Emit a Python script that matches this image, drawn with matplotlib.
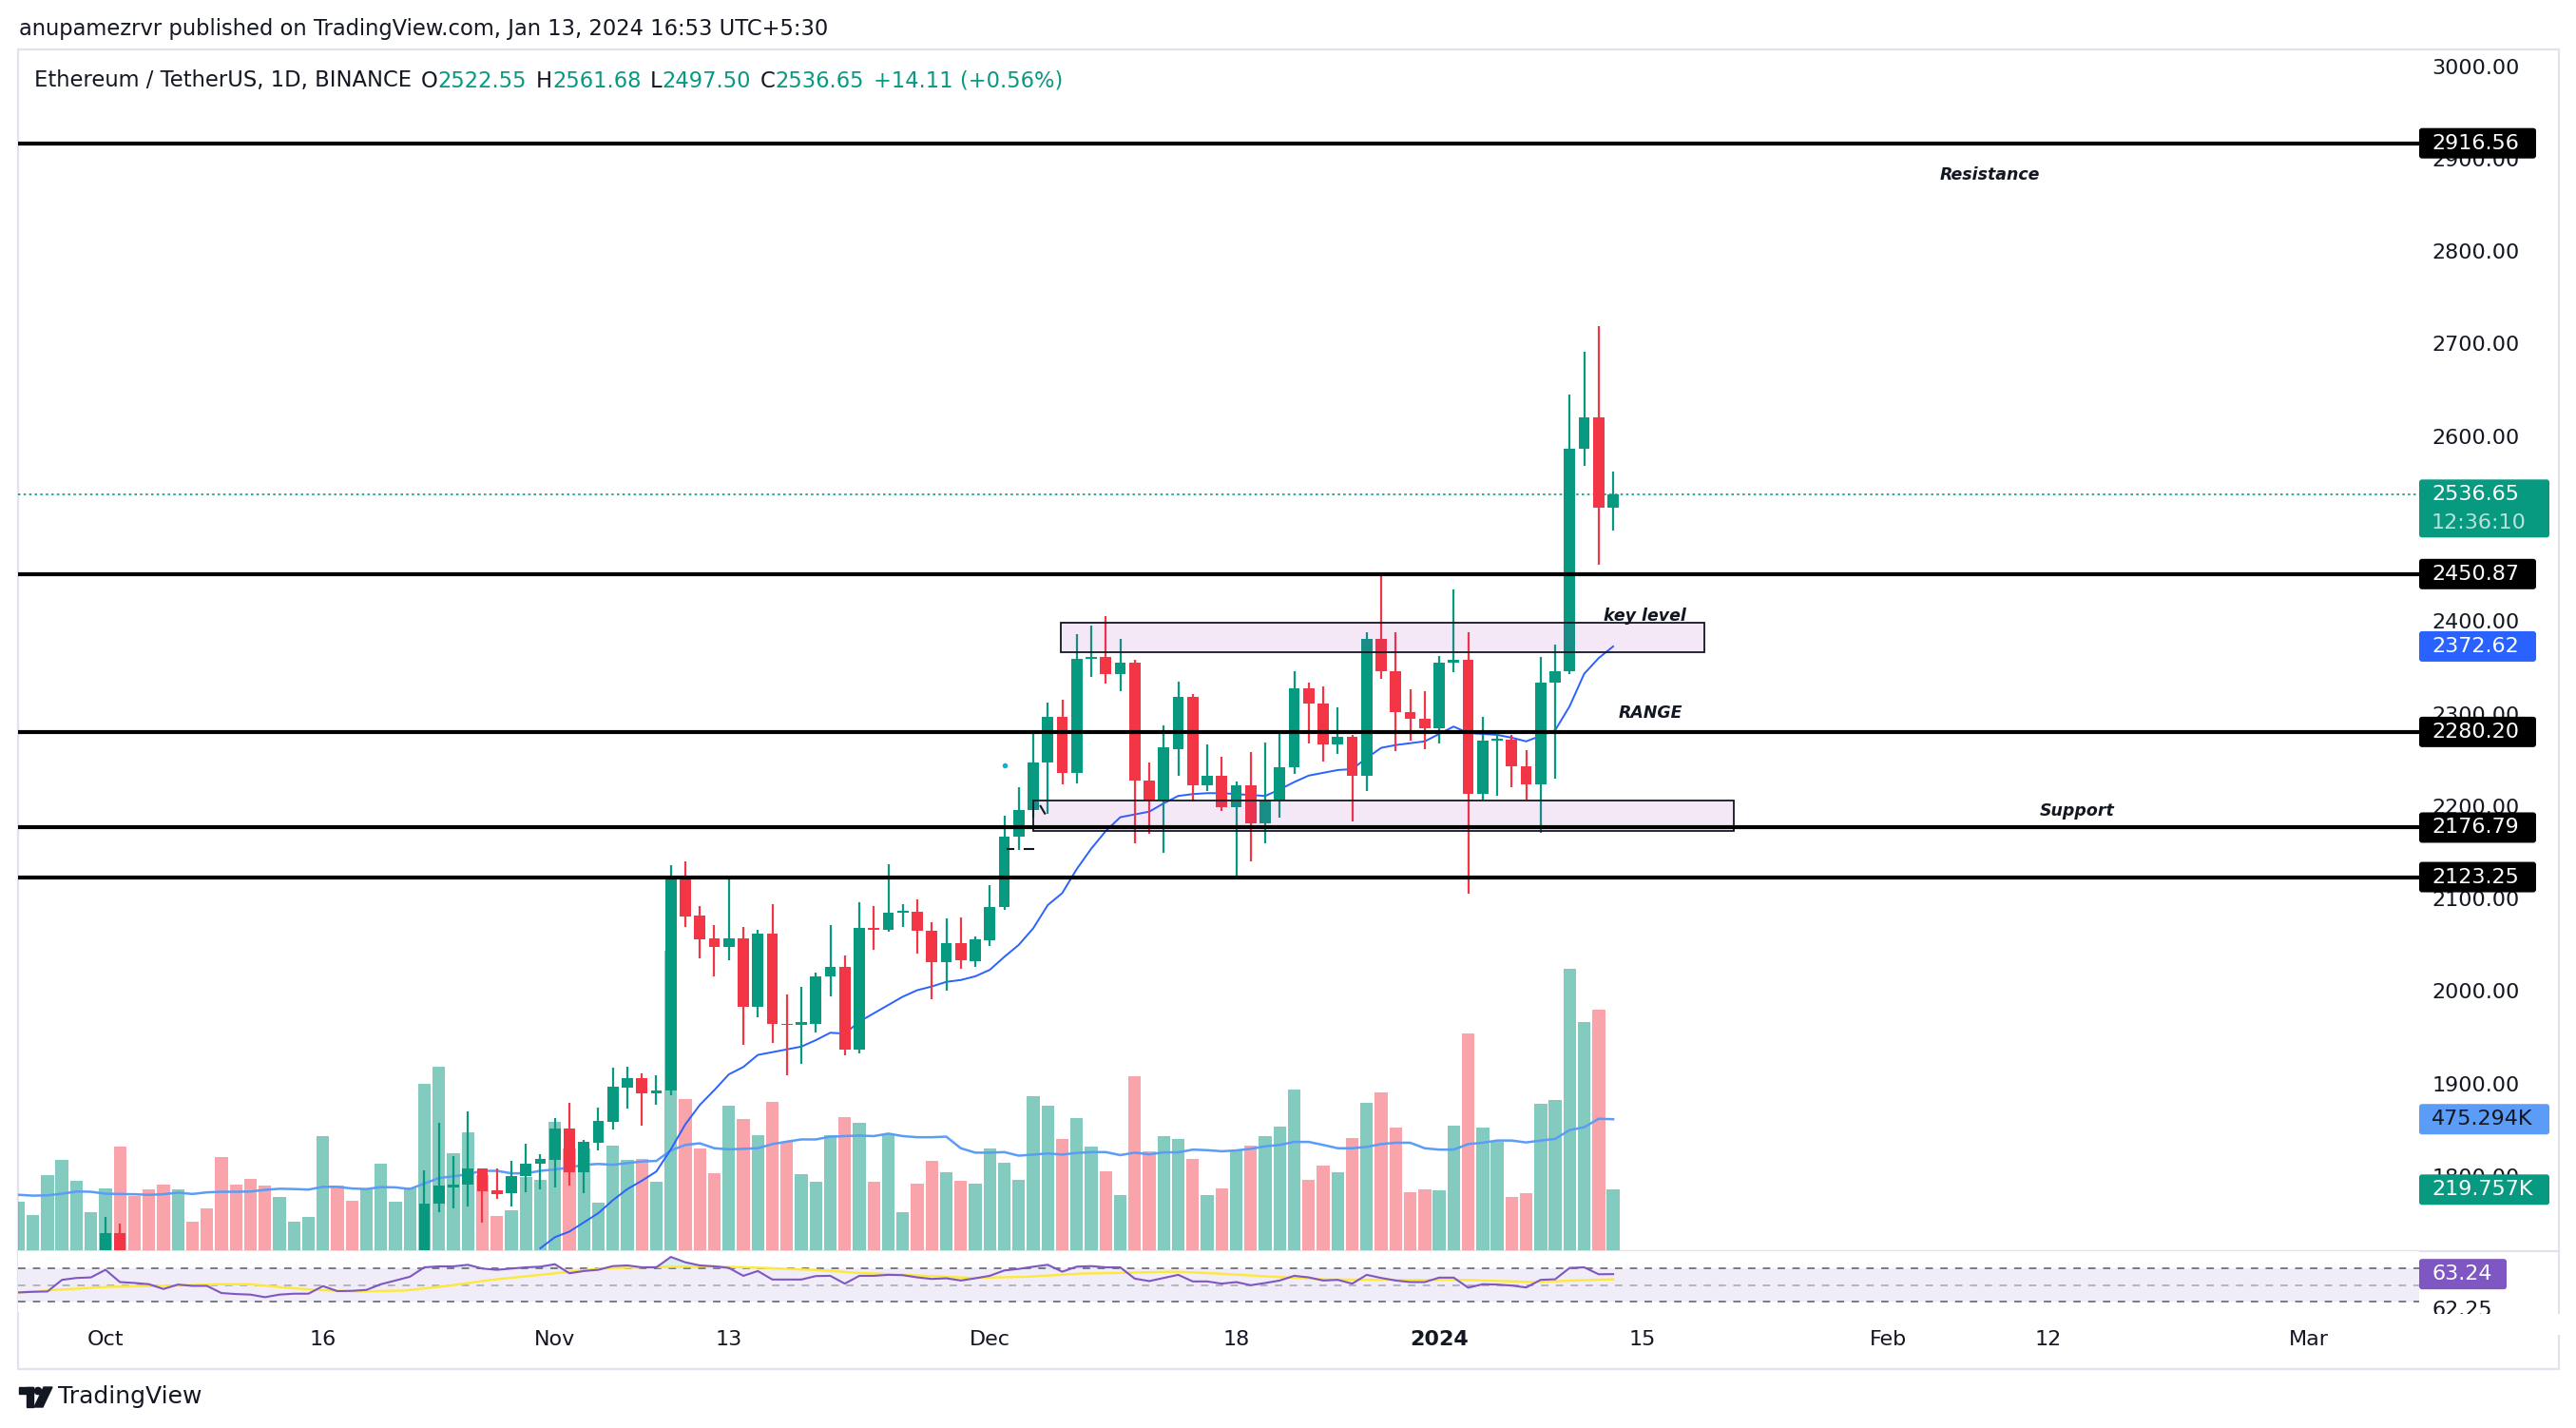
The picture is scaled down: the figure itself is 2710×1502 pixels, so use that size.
import matplotlib
matplotlib.use("Agg")
import matplotlib.pyplot as plt
from matplotlib.patches import Rectangle, FancyBboxPatch, Circle, Polygon
import numpy as np

W, H = 2710, 1502
GREEN = '#089981'
RED = '#f23645'
DARK = '#131722'

# day 0 = 1 Oct 2023, daily candles from 25 Sep 2023 to 13 Jan 2024
days = np.arange(-6, 105)

opens = [1580, 1588, 1593, 1600, 1653, 1668,
         1671, 1738, 1663, 1656, 1647, 1611, 1645, 1633, 1632, 1580, 1567, 1565, 1539, 1553, 1556, 1557,
         1600, 1565, 1564, 1567, 1605, 1629, 1659, 1770, 1788, 1791, 1808, 1785, 1782, 1800, 1813,
         1818, 1851, 1804, 1836, 1859, 1896, 1906, 1889, 1893, 2125, 2082, 2057, 2048, 2057, 1983,
         2062, 1965, 1963, 1965, 2016, 2026, 1937, 2068, 2066, 2085, 2086, 2065, 2031, 2052, 2032,
         2055, 2091, 2167, 2196, 2247, 2297, 2236, 2359, 2361, 2343, 2355, 2228, 2206, 2262, 2318,
         2223, 2233, 2199, 2222, 2181, 2206, 2242, 2327, 2311, 2267, 2275, 2233, 2381, 2346, 2302, 2294,
         2284, 2355, 2358, 2213, 2271, 2272, 2243, 2224, 2333, 2346, 2586, 2620, 2522.55]
highs = [1596, 1600, 1634, 1669, 1677, 1681,
         1756, 1749, 1673, 1660, 1666, 1657, 1648, 1647, 1634, 1594, 1576, 1571, 1566, 1562, 1568, 1634,
         1604, 1584, 1576, 1630, 1637, 1670, 1806, 1858, 1822, 1870, 1808, 1808, 1816, 1835, 1824,
         1863, 1879, 1839, 1874, 1917, 1918, 1911, 1909, 2136, 2140, 2092, 2071, 2122, 2069, 2066,
         2094, 1996, 2005, 2020, 2071, 2039, 2096, 2092, 2137, 2094, 2099, 2075, 2079, 2080, 2059,
         2115, 2190, 2220, 2278, 2312, 2315, 2386, 2395, 2405, 2381, 2358, 2247, 2287, 2335, 2321,
         2267, 2253, 2227, 2258, 2269, 2282, 2346, 2334, 2329, 2307, 2277, 2388, 2449, 2388, 2326, 2324,
         2362, 2434, 2388, 2297, 2280, 2277, 2261, 2361, 2375, 2645, 2691, 2719, 2561.68]
lows = [1570, 1576, 1588, 1594, 1637, 1661,
        1666, 1653, 1636, 1620, 1610, 1603, 1628, 1620, 1551, 1558, 1537, 1522, 1532, 1547, 1549, 1556,
        1553, 1550, 1540, 1562, 1599, 1623, 1656, 1761, 1765, 1767, 1750, 1775, 1767, 1783, 1786,
        1788, 1790, 1782, 1828, 1850, 1873, 1855, 1877, 1887, 2069, 2035, 2016, 2033, 1942, 1972,
        1944, 1909, 1921, 1955, 1994, 1931, 1933, 2045, 2064, 2069, 2041, 1991, 2000, 2024, 2026,
        2049, 2088, 2153, 2188, 2192, 2224, 2225, 2340, 2332, 2324, 2160, 2170, 2150, 2233, 2205,
        2216, 2195, 2122, 2140, 2160, 2188, 2235, 2268, 2248, 2256, 2183, 2216, 2338, 2259, 2271, 2262,
        2268, 2345, 2105, 2207, 2211, 2220, 2207, 2171, 2230, 2343, 2568, 2461, 2497.50]
closes = [1588, 1593, 1600, 1653, 1668, 1671,
          1738, 1663, 1656, 1647, 1611, 1645, 1633, 1632, 1580, 1567, 1565, 1539, 1553, 1556, 1557, 1600,
          1565, 1564, 1567, 1605, 1629, 1659, 1770, 1790, 1791, 1808, 1784, 1781, 1800, 1813, 1819,
          1851, 1804, 1837, 1860, 1897, 1906, 1889, 1893, 2125, 2081, 2056, 2048, 2057, 1983, 2062,
          1965, 1963, 1967, 2016, 2026, 1937, 2068, 2066, 2085, 2086, 2065, 2031, 2052, 2033, 2056,
          2091, 2167, 2196, 2247, 2297, 2236, 2359, 2361, 2343, 2355, 2228, 2206, 2264, 2318, 2223,
          2233, 2199, 2222, 2181, 2206, 2242, 2327, 2311, 2267, 2275, 2233, 2381, 2346, 2302, 2294, 2284,
          2355, 2358, 2213, 2271, 2272, 2243, 2224, 2333, 2346, 2586, 2620, 2522.55, 2536.65]

# volume in thousands
volume = [177, 129, 274, 329, 253, 139,
          225, 377, 198, 222, 239, 222, 105, 153, 339, 239, 260, 236, 194, 105, 122, 415,
          236, 181, 222, 315, 177, 229, 605, 667, 353, 429, 274, 125, 146, 265, 256,
          467, 368, 370, 174, 381, 329, 332, 250, 1085, 550, 370, 281, 526, 477, 419,
          539, 394, 277, 250, 419, 484, 463, 250, 422, 139, 243, 325, 284, 253, 243,
          370, 319, 256, 560, 526, 405, 481, 377, 288, 201, 633, 360, 415, 405, 332,
          201, 225, 363, 381, 415, 450, 584, 256, 308, 284, 408, 536, 574, 446, 212, 222,
          219, 453, 788, 446, 394, 194, 208, 532, 546, 1022, 829, 874, 219.757]
volume_ma = [201, 198, 199, 205, 213, 212,
             205, 204, 203, 201, 203, 209, 204, 210, 212, 212, 213, 219, 223, 222, 220, 230,
             230, 224, 222, 229, 228, 222, 242, 262, 268, 276, 288, 288, 279, 279, 288,
             293, 300, 310, 313, 310, 316, 322, 324, 362, 382, 388, 370, 366, 368, 370,
             385, 394, 402, 402, 412, 414, 416, 414, 423, 414, 410, 410, 412, 370, 354,
             354, 356, 343, 347, 351, 347, 353, 356, 356, 345, 354, 348, 355, 355, 365,
             363, 359, 362, 368, 377, 382, 393, 393, 382, 370, 370, 375, 385, 390, 390, 370,
             365, 365, 385, 390, 398, 398, 391, 398, 404, 436, 446, 477, 475.294]

ema_days = np.arange(30, 105)
ema = [1722, 1734, 1740, 1750, 1760, 1774, 1786, 1795, 1805, 1829, 1856, 1877, 1893, 1910, 1918,
       1931, 1934, 1937, 1940, 1947, 1955, 1954, 1967, 1976, 1985, 1994, 2001, 2005, 2010, 2012,
       2016, 2023, 2037, 2050, 2068, 2093, 2106, 2132, 2154, 2173, 2188, 2191, 2194, 2203, 2211,
       2213, 2214, 2214, 2213, 2212, 2211, 2218, 2226, 2233, 2236, 2239, 2240, 2252, 2263, 2266,
       2268, 2270, 2278, 2286, 2279, 2278, 2277, 2274, 2270, 2276, 2282, 2308, 2343, 2360, 2372.62]

rsi = [41.0, 41.8, 42.2, 56.3, 58.6, 59.3,
       68.5, 53.6, 52.5, 51.0, 45.2, 50.6, 49.0, 49.0, 40.3, 39.1, 38.4, 35.3, 38.4, 39.5, 39.5, 48.7,
       42.6, 43.0, 44.1, 51.0, 55.5, 60.1, 71.5, 72.7, 72.7, 74.6, 70.0, 68.5, 70.0, 71.5, 72.3,
       75.3, 64.3, 67.0, 68.5, 73.0, 73.8, 71.5, 71.5, 84.1, 77.6, 73.8, 72.7, 70.8, 61.2, 67.0,
       56.7, 56.7, 56.7, 60.9, 61.2, 51.7, 61.2, 61.2, 62.4, 62.0, 59.3, 57.4, 58.2, 55.5, 58.2,
       61.2, 67.7, 69.6, 72.3, 74.6, 66.2, 72.3, 73.0, 71.5, 71.5, 57.8, 54.8, 58.6, 62.4, 54.4,
       54.4, 51.7, 53.6, 49.8, 52.5, 55.5, 61.2, 59.3, 55.5, 56.3, 51.7, 62.4, 58.6, 55.5, 53.6, 53.6,
       59.0, 59.0, 46.8, 51.0, 50.6, 49.4, 47.1, 56.3, 57.0, 70.8, 71.5, 63.1, 63.24]
rsi_ma_days = [-6, -3.5, 0.25, 4.0, 7.8, 10.0, 12.3, 14.55, 17.2, 20.6, 23.6, 26.6, 30.4, 34.1,
               37.9, 41.7, 45.4, 49.2, 51.7, 54.2, 59.8, 63.6, 67.4, 73.8, 76.8, 80.5, 84.3, 90,
               93.7, 98.6, 101.2, 104]
rsi_ma = [41.0, 44.1, 47.9, 49.0, 51.0, 51.0, 47.1, 44.1, 42.2, 43.3, 49.0, 56.3, 63.1, 70.0,
          71.9, 72.7, 70.8, 68.1, 65.0, 63.1, 58.6, 60.1, 63.9, 66.2, 63.9, 60.1, 56.7, 56.3,
          56.3, 53.6, 55.5, 57.0]

levels = [2916.56, 2450.87, 2280.20, 2176.79, 2123.25]
last_price = 2536.65
key_box = (65.9, 110.3, 2366, 2398)
support_box = (64.0, 112.3, 2173, 2206)
notes = [('Resistance', 130.0, 2882), ('key level', 106.2, 2405),
         ('RANGE', 106.6, 2301), ('Support', 136.0, 2195)]

tick_days = [0, 15, 31, 43, 61, 78, 92, 106, 123, 134, 152]
tick_labels = ['Oct', '16', 'Nov', '13', 'Dec', '18', '2024', '15', 'Feb', '12', 'Mar']

opens, highs, lows, closes = map(np.array, (opens, highs, lows, closes))
volume = np.array(volume)
rsi = np.array(rsi)

fig = plt.figure(figsize=(W / 100, H / 100), dpi=100)
fig.patch.set_facecolor('white')


def rect(x0, y0, x1, y1):
    return [x0 / W, 1 - y1 / H, (x1 - x0) / W, (y1 - y0) / H]


under = fig.add_axes([0, 0, 1, 1], zorder=0)
under.set_xlim(0, W)
under.set_ylim(H, 0)
under.axis('off')
under.patch.set_visible(False)

ax_vol = fig.add_axes(rect(19, 52, 2545, 1315), zorder=1)
ax = fig.add_axes(rect(19, 52, 2545, 1315), zorder=2)
ax_rsi = fig.add_axes(rect(19, 1316, 2545, 1380), zorder=2)

over = fig.add_axes([0, 0, 1, 1], zorder=5)
over.set_xlim(0, W)
over.set_ylim(H, 0)
over.axis('off')
over.patch.set_visible(False)

xlim = (-6.03, 159.6)

# volume
ax_vol.set_xlim(*xlim)
ax_vol.set_ylim(0, 4357)
ax_vol.axis('off')
up = closes >= opens
vcol = [(8 / 255, 153 / 255, 129 / 255, 0.5) if u else (242 / 255, 54 / 255, 69 / 255, 0.45) for u in up]
ax_vol.bar(days, volume, width=0.88, color=vcol, linewidth=0)
ax_vol.plot(days, volume_ma, color='#5b9cf6', lw=1.8)

# price
ax.set_xlim(*xlim)
ax.set_ylim(1719.9, 3018)
ax.patch.set_visible(False)
for s in ax.spines.values():
    s.set_visible(False)
ax.yaxis.tick_right()
ax.set_yticks(np.arange(1800, 3001, 100))
ax.set_yticklabels([f'{v:.2f}' for v in np.arange(1800, 3001, 100)])
ax.tick_params(axis='y', length=0, pad=9.5, labelsize=16, labelcolor=DARK)
ax.set_xticks([])

ccol = np.where(up, GREEN, RED)
ax.plot(ema_days, ema, color='#2962ff', lw=1.4, zorder=3)
ax.vlines(days, lows, highs, colors=ccol, lw=1.6, zorder=4)
body_h = np.maximum(np.abs(closes - opens), 1.5)
ax.bar(days, body_h, bottom=np.minimum(opens, closes), width=0.78, color=ccol, linewidth=0, zorder=4)

ax.axhline(last_price, color=GREEN, ls=(0, (1.5, 2)), lw=1.2, zorder=2)
for lv in levels:
    ax.axhline(lv, color='black', lw=3, zorder=6)
for x0, x1, y0, y1 in (key_box, support_box):
    ax.add_patch(Rectangle((x0, y0), x1 - x0, y1 - y0, facecolor=(156 / 255, 39 / 255, 176 / 255, 0.1),
                           edgecolor=DARK, lw=1.3, zorder=5))
for txt, x, y in notes:
    ax.text(x, y, txt, ha='center', va='center', fontsize=12.5, fontweight='bold',
            fontstyle='italic', color=DARK, zorder=7)

# small stray marks of the drawing
ax.plot([64.5, 64.8], [2200, 2192], color=DARK, lw=1.5, zorder=6)
ax.plot([62.2, 62.6], [2154, 2154], color=DARK, lw=1.5, zorder=6)
ax.plot([63.4, 64.0], [2154, 2154], color=DARK, lw=1.5, zorder=6)
ax.plot([62.0], [2244], marker='o', ms=3, color='#00bcd4', zorder=6)

# RSI
ax_rsi.set_xlim(*xlim)
ax_rsi.set_ylim(17.3, 91.1)
for s in ax_rsi.spines.values():
    s.set_visible(False)
ax_rsi.axhspan(30, 70, color=(126 / 255, 87 / 255, 194 / 255, 0.1), lw=0)
ax_rsi.axhline(70, color='#787b86', ls=(0, (4, 4)), lw=1.4)
ax_rsi.axhline(50, color='#787b86', alpha=0.5, ls=(0, (4, 4)), lw=1.4)
ax_rsi.axhline(30, color='#787b86', ls=(0, (4, 4)), lw=1.4)
ax_rsi.fill_between(days, 70, rsi, where=rsi > 70, interpolate=True,
                    color=(8 / 255, 153 / 255, 129 / 255, 0.15), lw=0)
ax_rsi.plot(rsi_ma_days, rsi_ma, color='#fde83b', lw=1.7)
ax_rsi.plot(days, rsi, color='#7e57c2', lw=1.5)
ax_rsi.set_yticks([])
ax_rsi.set_xticks(tick_days)
ax_rsi.set_xticklabels(tick_labels)
ax_rsi.tick_params(axis='x', length=0, pad=14, labelsize=16, labelcolor=DARK)
ax_rsi.get_xticklabels()[6].set_fontweight('bold')

# frame
fc = '#e0e3eb'
under.plot([19, 2692, 2692, 19, 19], [52, 52, 1440, 1440, 52], color=fc, lw=1.6)
under.plot([19, 2692], [1315.5, 1315.5], color=fc, lw=1.6)

# header
under.text(20, 31, 'anupamezrvr published on TradingView.com, Jan 13, 2024 16:53 UTC+5:30',
           fontsize=16.3, va='center', color=DARK)
t = under.text(36, 85, 'Ethereum / TetherUS, 1D, BINANCE', fontsize=16.3, va='center', color=DARK)
parts = [('O', DARK, 7), ('2522.55', GREEN, 0), ('H', DARK, 7), ('2561.68', GREEN, 0),
         ('L', DARK, 7), ('2497.50', GREEN, 0), ('C', DARK, 7), ('2536.65', GREEN, 0),
         ('+14.11 (+0.56%)', GREEN, 7)]
for s, c, gap in parts:
    t = under.annotate(s, xy=(1, 0.5), xycoords=t, xytext=(gap, 0), textcoords='offset points',
                       va='center', ha='left', fontsize=16.3, color=c)

# logo
under.add_patch(Rectangle((20, 1459), 15, 7, color=DARK))
under.add_patch(Rectangle((28, 1459), 7, 21, color=DARK))
under.add_patch(Circle((40, 1463), 3.6, color=DARK))
under.add_patch(Polygon([[46, 1459], [55, 1459], [45, 1480], [36, 1480]], closed=True, color=DARK))
under.text(61, 1469, 'TradingView', fontsize=18, va='center', color=DARK, fontweight='medium')


# price-scale tags
def py(a, v):
    return H - a.transData.transform((0, v))[1]


def tag(yc, text, bgc, fg='white', w=123, hgt=32):
    over.add_patch(FancyBboxPatch((2545, yc - hgt / 2), w, hgt, boxstyle='round,pad=0,rounding_size=3',
                                  facecolor=bgc, edgecolor='none'))
    over.text(2558, yc, text, va='center', ha='left', fontsize=16, color=fg)


for lv in levels:
    tag(py(ax, lv), f'{lv:.2f}', 'black')
yp = py(ax, last_price)
over.add_patch(FancyBboxPatch((2545, yp - 16), 137, 61, boxstyle='round,pad=0,rounding_size=3',
                              facecolor=GREEN, edgecolor='none'))
over.text(2558, yp, f'{last_price:.2f}', va='center', ha='left', fontsize=16, color='white')
over.text(2558, yp + 30, '12:36:10', va='center', ha='left', fontsize=16, color='#b8e3db')
tag(py(ax, ema[-1]), f'{ema[-1]:.2f}', '#2962ff')
tag(py(ax_vol, volume_ma[-1]), f'{volume_ma[-1]:.3f}K', '#5b9cf6', DARK, w=137)
tag(py(ax_vol, volume[-1]), f'{volume[-1]:.3f}K', GREEN, 'white', w=137)
tag(py(ax_rsi, rsi[-1]), f'{rsi[-1]:.2f}', '#7e57c2', 'white', w=92)
# the RSI-MA value label is cut off by the bottom of the pane
over.text(2558, 1378, '62.25', va='center', ha='left', fontsize=16, color=DARK)
over.add_patch(Rectangle((2546, 1382), 150, 22, facecolor='white', edgecolor='none', zorder=10))

fig.savefig('out.png', dpi=100, facecolor='white')
